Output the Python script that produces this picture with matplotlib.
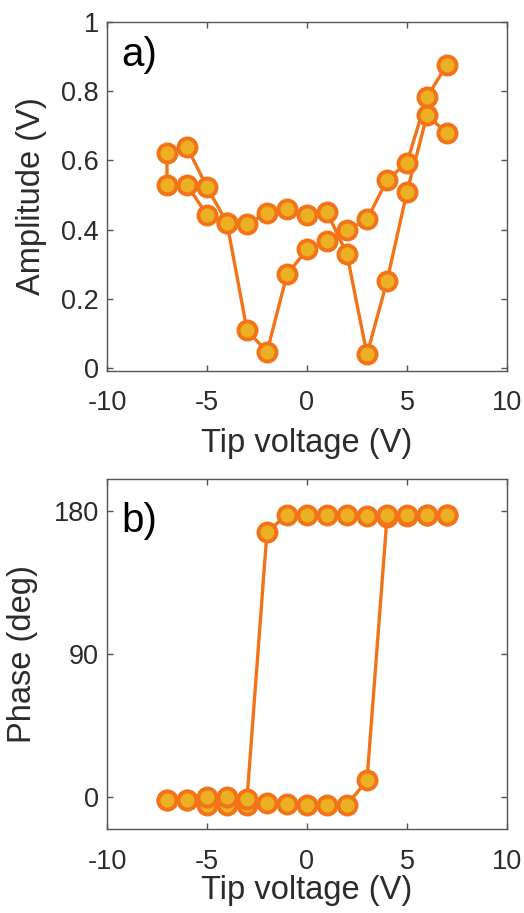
import numpy as np
import matplotlib.pyplot as plt

plt.rcParams['font.family'] = ['Liberation Sans', 'DejaVu Sans']
plt.rcParams['axes.unicode_minus'] = False

# voltage sweep: down from +7 to -7, then back up to +7
v_down = [7, 6, 5, 4, 3, 2, 1, 0, -1, -2, -3, -4, -5, -6, -7]
v_up = [-7, -6, -5, -4, -3, -2, -1, 0, 1, 2, 3, 4, 5, 6, 7]

amp_down = [0.68, 0.73, 0.51, 0.252, 0.04, 0.329, 0.451, 0.444, 0.459, 0.448,
            0.416, 0.419, 0.442, 0.53, 0.53]
amp_up = [0.622, 0.639, 0.523, 0.42, 0.11, 0.047, 0.271, 0.343, 0.367, 0.398,
          0.43, 0.543, 0.594, 0.783, 0.877]

phase_down = [177.4, 177.4, 176.5, 176.0, 10.9, -4.8, -4.8, -4.8, -4.2, -3.4,
              -4.8, -4.8, -4.8, -1.7, -1.7]
phase_up = [-1.5, -1.5, 0.0, 0.0, -0.9, 166.9, 177.4, 177.4, 177.4, 177.4,
            177.0, 177.4, 177.4, 177.4, 177.4]

volts = v_down + v_up
amp = amp_down + amp_up
phase = phase_down + phase_up

line_col = '#F27318'
face_col = '#EBB023'
axis_col = '#555555'
text_col = '#2b2b2b'

fig = plt.figure(figsize=(5.24, 9.13), dpi=100)
W, H = 524, 913
ax1 = fig.add_axes([107 / W, 1 - 371 / H, 400 / W, 349 / H])
ax2 = fig.add_axes([107 / W, 1 - 829.3 / H, 400 / W, 350.3 / H])


def style(ax, xpad):
    ax.set_xlim(-10, 10)
    ax.set_xticks([-10, -5, 0, 5, 10])
    ax.tick_params(direction='in', length=4, width=1, colors=axis_col,
                   labelcolor=text_col, labelsize=19.5, top=True, right=True)
    ax.tick_params(axis='x', pad=14)
    ax.tick_params(axis='y', pad=6)
    for s in ax.spines.values():
        s.set_color(axis_col)
        s.set_linewidth(1)
    ax.set_xlabel('Tip voltage (V)', fontsize=23.5, color=text_col, labelpad=xpad)


for ax, y in ((ax1, amp), (ax2, phase)):
    ax.plot(volts, y, '-o', color=line_col, lw=2.4, ms=13, mfc=face_col,
            mec=line_col, mew=2.8, clip_on=False)

style(ax1, 8)
style(ax2, 0)

ax1.set_ylim(-0.008, 1)
ax1.set_yticks([0, 0.2, 0.4, 0.6, 0.8, 1])
ax1.set_yticklabels(['0', '0.2', '0.4', '0.6', '0.8', '1'])
ax1.set_ylabel('Amplitude (V)', fontsize=23.5, color=text_col, labelpad=10)
ax1.text(0.035, 0.873, 'a)', transform=ax1.transAxes, fontsize=29, va='baseline')

ax2.set_ylim(-20, 200)
ax2.set_yticks([0, 90, 180])
ax2.set_ylabel('Phase (deg)', fontsize=23.5, color=text_col, labelpad=11)
ax2.text(0.035, 0.85, 'b)', transform=ax2.transAxes, fontsize=29, va='baseline')

fig.savefig('out.png', dpi=100)
